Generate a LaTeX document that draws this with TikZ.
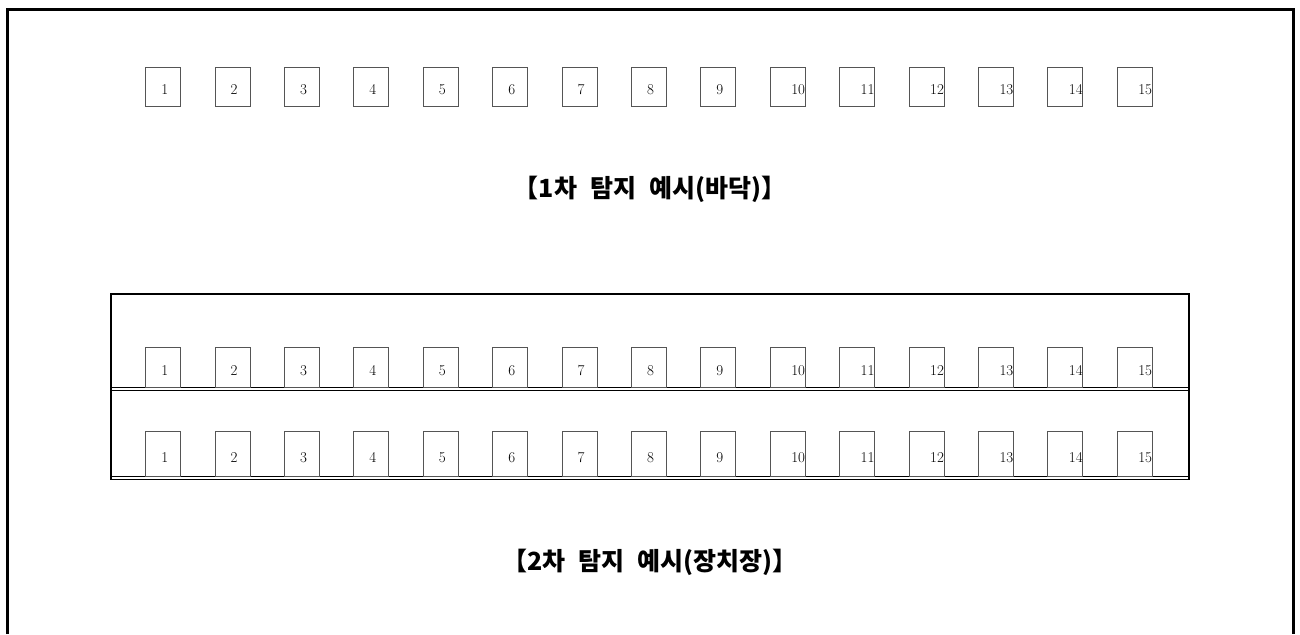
\documentclass[tikz,border=0pt]{standalone}
\usepackage{fontspec}
\newfontfamily\krfont{Noto Sans CJK KR}
\definecolor{boxgray}{HTML}{555555}

\tikzset{
  cell/.style={draw=boxgray, line width=1pt, minimum width=35pt, inner sep=0pt},
  num/.style={font=\fontsize{15}{17}\selectfont, inner sep=0.5pt},
  title/.style={font=\krfont\bfseries\fontsize{25}{29}\selectfont, execute at begin node={\spaceskip=13pt\relax}}
}

\begin{document}
\begin{tikzpicture}[x=1pt,y=-1pt]
            \useasboundingbox (0,0) rectangle (1300,634);
            % outer frame, open at the bottom
            \draw[line width=3pt] (7,634) -- (7,10) -- (1293,10) -- (1293,634);
            % rack with two shelves
            \draw[line width=2.4pt] (111,479.5) coordinate(rbl) -- (111,294) -- (1189,294) -- (1189,479.5) coordinate(rbr);
            \draw[line width=1pt] (111,387.3) -- (1189,387.3) (111,390.6) -- (1189,390.6);
            \draw[line width=1pt] (111,476.5) -- (1189,476.5) (rbl) -- (rbr);
            \foreach \i in {1,...,15} {
                \pgfmathsetmacro{\cx}{163.2+69.4*(\i-1)}
                \node[cell, minimum height=39pt] (t\i) at (\cx,86.5) {};
                \node[cell, minimum height=39.6pt] (a\i) at (\cx,367.5) {};
                \node[cell, minimum height=45.7pt] (b\i) at (\cx,454) {};
            }
            \foreach \r in {t,a,b} {
                \foreach \i in {1,...,9}
                    \node[num, anchor=base, xshift=1.5pt, yshift=-8pt] (\r\i n) at (\r\i.center) {\i};
                \foreach \i in {10,...,15}
                    \node[num, anchor=base east, yshift=-8pt] (\r\i n) at (\r\i.east) {\i};
            }
            \node[title] (cap1) at (650,189) {【1차 탐지 예시(바닥)】};
            \node[title] (cap2) at (650,562) {【2차 탐지 예시(장치장)】};
        \end{tikzpicture}
\end{document}
